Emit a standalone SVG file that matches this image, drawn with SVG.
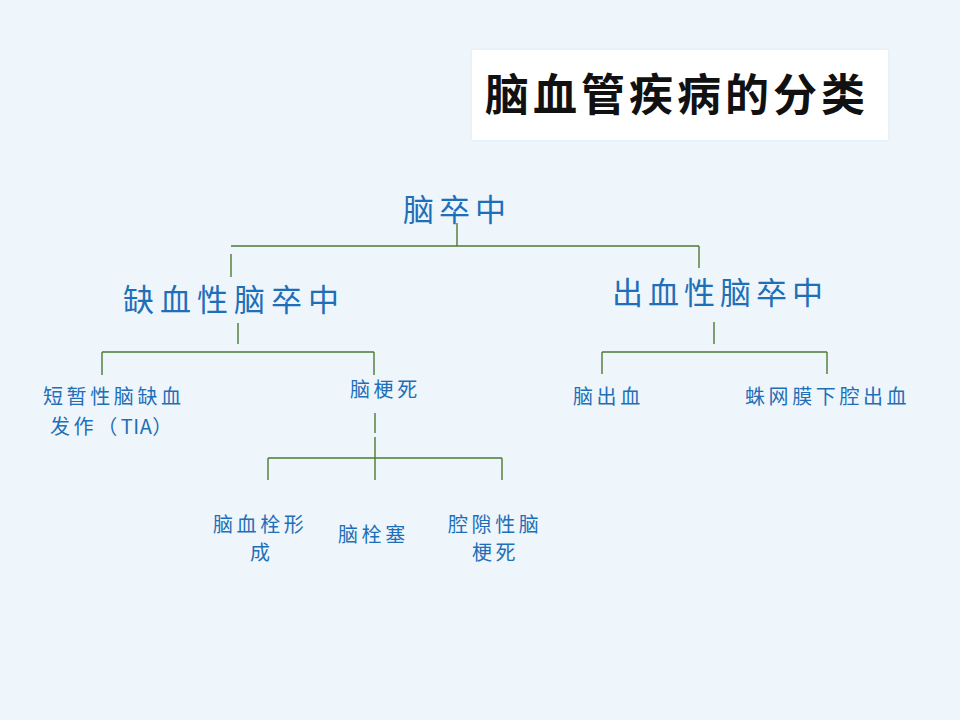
<svg xmlns="http://www.w3.org/2000/svg" width="960" height="720" viewBox="0 0 960 720">
  <defs>
    <style>
      .lbl { font-family: "Noto Sans CJK SC", "Noto Sans", sans-serif; fill: #1E6FB8; }
      .big { font-size: 31px; letter-spacing: 5px; }
      .small { font-size: 20px; letter-spacing: 3.6px; }
      .title { font-family: "Noto Sans CJK SC", "Noto Sans", sans-serif; font-size: 44px; letter-spacing: 4px; font-weight: bold; fill: #111111; }
      .conn { stroke: #4E7A36; stroke-width: 1.4; fill: none; }
    </style>
    <filter id="sh" x="-5%" y="-10%" width="110%" height="120%">
      <feGaussianBlur in="SourceAlpha" stdDeviation="1.5"/>
      <feOffset dx="0" dy="0" result="b"/>
      <feFlood flood-color="#C8D8E6" flood-opacity="0.6"/>
      <feComposite in2="b" operator="in"/>
      <feMerge><feMergeNode/><feMergeNode in="SourceGraphic"/></feMerge>
    </filter>
  </defs>
  <rect x="0" y="0" width="960" height="720" fill="#EEF6FC"/>

  <g id="title">
    <rect x="472" y="50" width="416" height="90" fill="#FFFFFF" filter="url(#sh)"/>
    <text class="title" x="485" y="111">脑血管疾病的分类</text>
  </g>

  <g id="connectors">
    <path class="conn" d="M457 223 V246 M231 246 H699 M231 254 V277 M699 246 V268"/>
    <path class="conn" d="M238 323 V344 M102 352 H374 M102 352 V375 M374 352 V375"/>
    <path class="conn" d="M714 322 V344 M602 352 H827 M602 352 V374 M827 352 V374"/>
    <path class="conn" d="M375 413 V433 M375 437 V480 M268 458 H502 M268 458 V480 M502 458 V480"/>
  </g>

  <g id="node-stroke">
    <text class="lbl big" x="403" y="221">脑卒中</text>
  </g>
  <g id="node-ischemic">
    <text class="lbl big" x="123" y="311" style="letter-spacing:6px">缺血性脑卒中</text>
  </g>
  <g id="node-hemorrhagic">
    <text class="lbl big" x="612" y="304">出血性脑卒中</text>
  </g>
  <g id="node-tia">
    <text class="lbl small" x="43" y="404">短暂性脑缺血</text>
    <text class="lbl small" x="50" y="434">发作（<tspan style="letter-spacing:0.5px">TIA</tspan>）</text>
  </g>
  <g id="node-infarction">
    <text class="lbl small" x="350" y="397">脑梗死</text>
  </g>
  <g id="node-ich">
    <text class="lbl small" x="573" y="404">脑出血</text>
  </g>
  <g id="node-sah">
    <text class="lbl small" x="745" y="404">蛛网膜下腔出血</text>
  </g>
  <g id="node-thrombosis">
    <text class="lbl small" x="213" y="532">脑血栓形</text>
    <text class="lbl small" x="250" y="560">成</text>
  </g>
  <g id="node-embolism">
    <text class="lbl small" x="338" y="542">脑栓塞</text>
  </g>
  <g id="node-lacunar">
    <text class="lbl small" x="448" y="532">腔隙性脑</text>
    <text class="lbl small" x="472" y="560">梗死</text>
  </g>
</svg>
